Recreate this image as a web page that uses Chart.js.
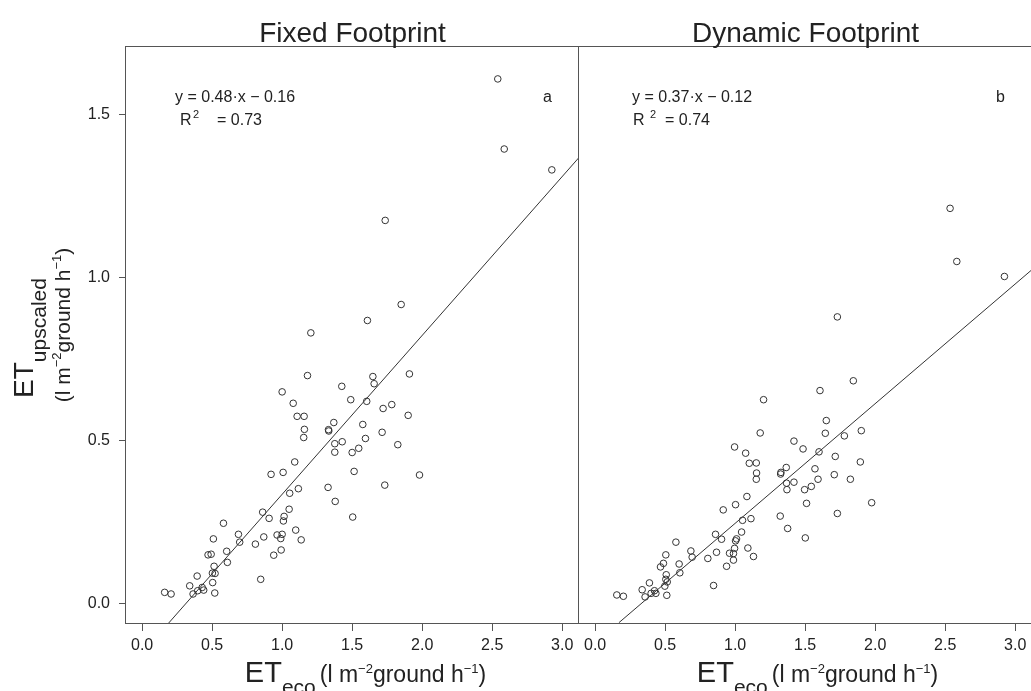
<!DOCTYPE html>
<html>
<head>
<meta charset="utf-8">
<script src="https://cdn.jsdelivr.net/npm/chart.js@4.4.1/dist/chart.umd.min.js"></script>
<style>
body { margin: 0; background: #fff; overflow: hidden; }
#wrap { position: relative; width: 1031px; height: 691px; overflow: hidden; background: #fff; }
#left { position: absolute; left: 0; top: 0; }
#right { position: absolute; left: 570px; top: 0; }
</style>
</head>
<body>
<div id="wrap">
<canvas id="left" width="580" height="691"></canvas>
<canvas id="right" width="470" height="691"></canvas>
</div>
<script>
"use strict";

// values
const fixedX = [1.85, 1.609, 1.205, 1.181, 1.648, 1.909, 1.657, 1.426, 1.0, 1.49, 1.079, 1.604, 1.783, 1.721,
    1.107, 1.157, 1.9, 1.369, 1.576, 1.331, 1.333, 1.159, 1.154, 1.714, 1.595, 1.376, 1.429, 1.826, 1.376,
    1.5, 1.547, 1.09, 1.007, 0.921, 1.514, 1.981, 1.733, 1.328, 1.116, 1.054, 1.379, 1.05, 0.861, 1.014,
    0.907, 1.009, 1.504, 0.581, 1.097, 0.688, 0.697, 0.964, 1.0, 0.99, 0.869, 1.136, 0.509, 0.809, 0.993,
    0.94, 0.604, 0.471, 0.493, 0.609, 0.514, 0.502, 0.521, 0.393, 0.504, 0.34, 0.429, 0.44, 0.397, 0.364,
    0.519, 0.161, 0.207, 0.847, 2.54, 2.586, 2.926, 1.736]
const fixedY = [0.916, 0.867, 0.829, 0.698, 0.695, 0.703, 0.673, 0.665, 0.648, 0.624, 0.613, 0.619, 0.609, 0.597,
    0.573, 0.573, 0.576, 0.554, 0.548, 0.532, 0.528, 0.533, 0.508, 0.524, 0.505, 0.489, 0.495, 0.486, 0.463,
    0.462, 0.475, 0.433, 0.401, 0.395, 0.404, 0.393, 0.362, 0.355, 0.351, 0.337, 0.312, 0.288, 0.279, 0.266,
    0.26, 0.252, 0.264, 0.245, 0.224, 0.211, 0.187, 0.209, 0.211, 0.198, 0.203, 0.194, 0.197, 0.181, 0.163,
    0.147, 0.159, 0.148, 0.15, 0.125, 0.113, 0.092, 0.091, 0.083, 0.063, 0.053, 0.048, 0.04, 0.038, 0.028,
    0.031, 0.033, 0.028, 0.073, 1.608, 1.393, 1.329, 1.174]

const dynamicX = [2.535, 2.583, 2.923, 1.73, 1.844, 1.606, 1.203, 1.651, 1.644, 1.179, 1.901, 1.78, 1.42, 1.485,
    0.996, 1.075, 1.599, 1.715, 1.101, 1.151, 1.894, 1.365, 1.327, 1.325, 1.153, 1.151, 1.57, 1.592, 1.708,
    1.823, 1.367, 1.42, 1.37, 1.496, 1.544, 1.084, 1.51, 1.975, 1.73, 1.003, 0.915, 1.322, 1.113, 1.053,
    1.375, 1.046, 1.501, 0.86, 0.903, 1.01, 1.003, 0.577, 1.091, 0.996, 0.684, 0.96, 0.988, 1.131, 0.693,
    0.805, 0.988, 0.867, 0.505, 0.6, 0.488, 0.467, 0.939, 0.605, 0.508, 0.505, 0.515, 0.498, 0.846, 0.388,
    0.336, 0.424, 0.4, 0.434, 0.357, 0.512, 0.155, 0.202]
const dynamicY = [1.211, 1.048, 1.002, 0.878, 0.682, 0.652, 0.624, 0.56, 0.521, 0.522, 0.529, 0.513, 0.497, 0.473,
    0.479, 0.46, 0.464, 0.45, 0.429, 0.43, 0.433, 0.416, 0.401, 0.396, 0.399, 0.38, 0.412, 0.38, 0.394,
    0.38, 0.368, 0.371, 0.348, 0.348, 0.358, 0.327, 0.306, 0.308, 0.275, 0.302, 0.286, 0.267, 0.259, 0.254,
    0.229, 0.218, 0.2, 0.211, 0.196, 0.197, 0.191, 0.187, 0.169, 0.168, 0.16, 0.153, 0.152, 0.143, 0.141,
    0.137, 0.132, 0.156, 0.148, 0.12, 0.122, 0.111, 0.113, 0.093, 0.087, 0.073, 0.065, 0.052, 0.054, 0.062,
    0.041, 0.038, 0.03, 0.03, 0.019, 0.024, 0.025, 0.021]

// fitted lines, end points where they leave the panel
const fixedLineX = [0.19, 3.12]
const fixedLineY = [-0.061, 1.367]
const dynamicLineX = [0.17, 3.12]
const dynamicLineY = [-0.06, 1.023]

const xTicks = [0, 0.5, 1, 1.5, 2, 2.5, 3]
const yTicks = [0, 0.5, 1, 1.5]
const xRange = [-0.115, 3.12]
const yRange = [-0.061, 1.709]

const FONT = "'Liberation Sans', Arial, sans-serif"
const INK = "#222"
const BOX = "#555"

function richText(ctx, x, y, parts, center) {
    var w = 0
    parts.forEach(p => { ctx.font = p.size + "px " + FONT; w += ctx.measureText(p.t).width + (p.gap || 0) })
    var cx = center ? x - w / 2 : x
    parts.forEach(p => {
        ctx.font = p.size + "px " + FONT
        ctx.fillText(p.t, cx, y + (p.dy || 0))
        cx += ctx.measureText(p.t).width + (p.gap || 0)
    })
}

function unitParts(size) {
    return [
        {t: "(l m", size: size},
        {t: "\u22122", size: 13, dy: -9},
        {t: "ground h", size: size},
        {t: "\u22121", size: 13, dy: -9},
        {t: ")", size: size}
    ]
}

const deco = {
    id: "deco",
    afterDraw(chart, args, o) {
        const ctx = chart.ctx
        const a = chart.chartArea
        ctx.save()
        ctx.strokeStyle = BOX
        ctx.lineWidth = 1
        ctx.strokeRect(Math.round(a.left) - 0.5, Math.round(a.top) + 0.5, a.right - a.left, a.bottom - a.top)
        ctx.fillStyle = INK
        ctx.textBaseline = "alphabetic"
        ctx.textAlign = "left"

        // panel title
        const mid = (a.left + a.right) / 2
        richText(ctx, mid, 42, [{t: o.title, size: 28}], true)

        // equation and R²
        ctx.font = "16px " + FONT
        ctx.fillText(o.eq, a.left + o.eqX, a.top + 56)
        ctx.fillText("R", a.left + o.rX[0], a.top + 79)
        ctx.font = "11px " + FONT
        ctx.fillText("2", a.left + o.rX[1], a.top + 72)
        ctx.font = "16px " + FONT
        ctx.fillText(o.r2, a.left + o.rX[2], a.top + 79)
        ctx.fillText(o.letter, a.left + 417, a.top + 56)

        // x axis title
        richText(ctx, mid + o.xTitleShift, 682,
            [{t: "ET", size: 29}, {t: "eco", size: 21, dy: 12, gap: 4}].concat(unitParts(23)), true)

        // y axis title, only on the first panel
        if (o.yTitle) {
            ctx.save()
            ctx.translate(33, 338)
            ctx.rotate(-Math.PI / 2)
            richText(ctx, 0, 0, [{t: "ET", size: 28}, {t: "upscaled", size: 21, dy: 13}], true)
            ctx.restore()
            ctx.save()
            ctx.translate(70, 325)
            ctx.rotate(-Math.PI / 2)
            richText(ctx, 0, 0, unitParts(21), true)
            ctx.restore()
        }
        ctx.restore()
    }
}

function makePanel(canvasId, xs, ys, lineX, lineY, opts) {
    const points = xs.map((x, i) => ({x: x, y: ys[i]}))
    const line = lineX.map((x, i) => ({x: x, y: lineY[i]}))

    const config = {
        type: "scatter",
        data: {
            datasets: [
                {
                    data: points,
                    pointStyle: "circle",
                    pointRadius: 3.3,
                    pointBorderWidth: 1,
                    borderColor: "#333",
                    backgroundColor: "rgba(0,0,0,0)"
                },
                {
                    type: "line",
                    data: line,
                    borderColor: "#333",
                    borderWidth: 1,
                    pointRadius: 0,
                    fill: false
                }
            ]
        },
        options: {
            responsive: false,
            animation: false,
            events: [],
            layout: {autoPadding: false, padding: opts.padding},
            plugins: {
                legend: {display: false},
                tooltip: {enabled: false},
                deco: opts.deco
            },
            scales: {
                x: {
                    type: "linear",
                    min: xRange[0],
                    max: xRange[1],
                    afterBuildTicks: s => { s.ticks = xTicks.map(v => ({value: v})) },
                    afterFit: s => { s.height = 68; s.paddingLeft = 0; s.paddingRight = 0 },
                    grid: {drawOnChartArea: false, drawTicks: true, tickLength: 8, tickColor: BOX, color: BOX},
                    border: {display: false},
                    ticks: {
                        autoSkip: false, maxRotation: 0, padding: 5, color: INK,
                        font: {size: 16, family: FONT},
                        callback: v => v.toFixed(1)
                    }
                },
                y: {
                    type: "linear",
                    display: opts.showY,
                    min: yRange[0],
                    max: yRange[1],
                    afterBuildTicks: s => { s.ticks = yTicks.map(v => ({value: v})) },
                    afterFit: s => { s.width = opts.showY ? 126 : 0; s.paddingTop = 0; s.paddingBottom = 0 },
                    grid: {drawOnChartArea: false, drawTicks: true, tickLength: 7, tickColor: BOX, color: BOX},
                    border: {display: false},
                    ticks: {
                        autoSkip: false, padding: 9, color: INK,
                        font: {size: 16, family: FONT},
                        callback: v => v.toFixed(1)
                    }
                }
            }
        },
        plugins: [deco]
    }
    return new Chart(document.getElementById(canvasId), config)
}

makePanel("left", fixedX, fixedY, fixedLineX, fixedLineY, {
    showY: true,
    padding: {top: 46, left: 0, right: 1, bottom: 0},
    deco: {title: "Fixed Footprint", eq: "y = 0.48\u00b7x \u2212 0.16", eqX: 49, rX: [54, 67, 91],
        r2: "= 0.73", letter: "a", xTitleShift: 13, yTitle: true}
})

makePanel("right", dynamicX, dynamicY, dynamicLineX, dynamicLineY, {
    showY: false,
    padding: {top: 46, left: 9, right: 8, bottom: 0},
    deco: {title: "Dynamic Footprint", eq: "y = 0.37\u00b7x \u2212 0.12", eqX: 53, rX: [54, 71, 86],
        r2: "= 0.74", letter: "b", xTitleShift: 12, yTitle: false}
})
</script>
</body>
</html>
